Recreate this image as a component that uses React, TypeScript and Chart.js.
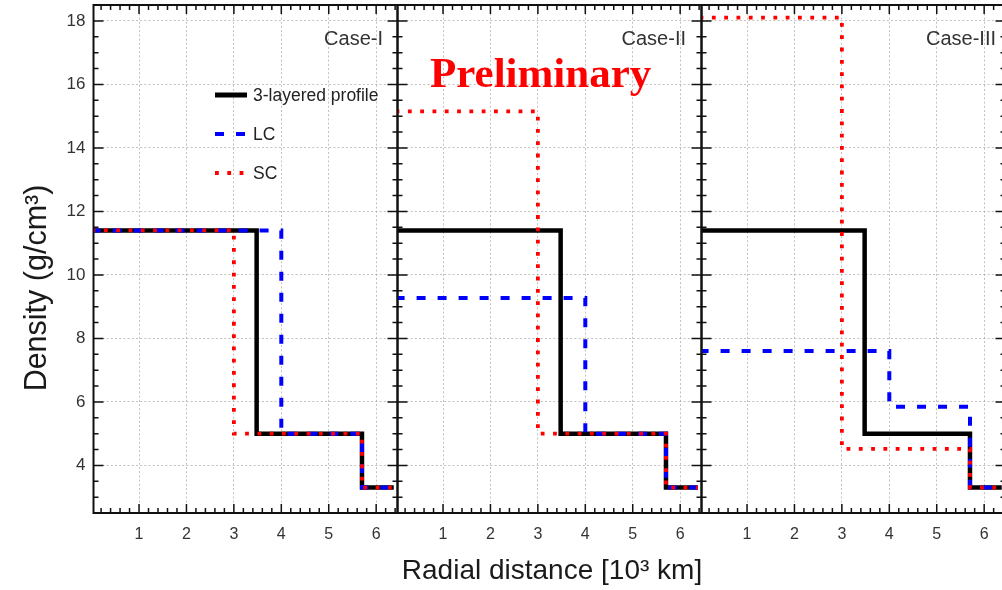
import React, { useEffect, useRef } from "react";
import { Chart, registerables } from "chart.js";

Chart.register(...registerables);

// ---------- data ----------
const caseNames = ["Case-I", "Case-II", "Case-III"];
const seriesNames = ["3-layered profile", "LC", "SC"];

const xTickValues = [1, 2, 3, 4, 5, 6];
const yTickValues = [4, 6, 8, 10, 12, 14, 16, 18];
const xRange = [0.04, 6.45];
const yRange = [2.5, 18.5];

// layer boundaries (radial distance, 10^3 km) and densities (g/cm^3) per layer
const threeLayerRadii = [0, 3.48, 5.701, 6.371];
const threeLayerDensity = [11.4, 5.0, 3.3];

const caseILcRadii = [0, 4.0, 5.701, 6.371];
const caseILcDensity = [11.4, 5.0, 3.3];
const caseIScRadii = [0, 3.0, 5.701, 6.371];
const caseIScDensity = [11.4, 5.0, 3.3];

const caseIILcRadii = [0, 4.0, 5.701, 6.371];
const caseIILcDensity = [9.27, 5.0, 3.3];
const caseIIScRadii = [0, 3.0, 5.701, 6.371];
const caseIIScDensity = [15.15, 5.0, 3.3];

const caseIIILcRadii = [0, 4.0, 5.701, 6.371];
const caseIIILcDensity = [7.6, 5.85, 3.3];
const caseIIIScRadii = [0, 3.0, 5.701, 6.371];
const caseIIIScDensity = [18.1, 4.52, 3.3];

const lcRadii = [caseILcRadii, caseIILcRadii, caseIIILcRadii];
const lcDensity = [caseILcDensity, caseIILcDensity, caseIIILcDensity];
const scRadii = [caseIScRadii, caseIIScRadii, caseIIIScRadii];
const scDensity = [caseIScDensity, caseIIScDensity, caseIIIScDensity];

// ---------- helpers ----------
const FONT = '"Liberation Sans", Arial, Helvetica, sans-serif';

// point i starts layer i (inner radius); the line runs horizontally to the next boundary, then steps
function stepPoints(radii: number[], dens: number[]) {
  return radii.map((r, i) => ({ x: r, y: dens[Math.min(i, dens.length - 1)] }));
}

const canvasLeft = [0, 396, 700];
const canvasWidth = [400, 308, 308];
const padLeft = [0, 1.5, 1.5];
const caseRightOffset = [14.5, 15.5, 9.5];

function makePlugin(panel: number) {
  return {
    id: "decor" + panel,
    afterDatasetsDraw(chart: any) {
      const { ctx, chartArea: a, scales } = chart;
      const xs = scales.x;
      const ys = scales.y;
      ctx.save();
      // frame
      ctx.strokeStyle = "#111";
      ctx.lineWidth = 2;
      ctx.setLineDash([]);
      ctx.strokeRect(a.left, a.top, a.right - a.left, a.bottom - a.top);
      // inward ticks
      ctx.lineWidth = 1.5;
      ctx.beginPath();
      for (let k = 1; k <= 32; k++) {
        const v = k * 0.2;
        if (v > xs.max) break;
        const px = xs.getPixelForValue(v);
        const major = Math.abs(v - Math.round(v)) < 1e-6;
        const len = major ? 9 : 5;
        ctx.moveTo(px, a.bottom);
        ctx.lineTo(px, a.bottom - len);
        ctx.moveTo(px, a.top);
        ctx.lineTo(px, a.top + len);
      }
      for (let k = 5; k <= 37; k++) {
        const v = k * 0.5;
        if (v <= ys.min || v >= ys.max) continue;
        const py = ys.getPixelForValue(v);
        const major = Math.abs(v / 2 - Math.round(v / 2)) < 1e-6;
        const len = major ? 10 : 5;
        ctx.moveTo(a.left, py);
        ctx.lineTo(a.left + len, py);
        ctx.moveTo(a.right, py);
        ctx.lineTo(a.right - len, py);
      }
      ctx.stroke();

      // case label
      ctx.fillStyle = "#333";
      ctx.font = "20px " + FONT;
      ctx.textAlign = "right";
      ctx.textBaseline = "middle";
      ctx.fillText(caseNames[panel], a.right - caseRightOffset[panel], a.top + 34);

      if (panel === 0) {
        // legend
        const ds = chart.data.datasets;
        [0, 1, 2].forEach((i, row) => {
          const d = ds[i];
          const y = a.top + 90 + row * 39;
          ctx.strokeStyle = d.borderColor;
          ctx.lineWidth = i === 0 ? 5 : d.borderWidth;
          ctx.setLineDash(d.borderDash || []);
          ctx.beginPath();
          ctx.moveTo(215, y);
          ctx.lineTo(247, y);
          ctx.stroke();
          ctx.setLineDash([]);
          ctx.fillStyle = "#222";
          ctx.font = "17.5px " + FONT;
          ctx.textAlign = "left";
          ctx.textBaseline = "middle";
          ctx.fillText(d.label, 253, y + 1);
        });
        // y title
        ctx.save();
        ctx.translate(38, 288);
        ctx.rotate(-Math.PI / 2);
        ctx.fillStyle = "#1a1a1a";
        ctx.font = "30.5px " + FONT;
        ctx.textAlign = "center";
        ctx.textBaseline = "middle";
        ctx.fillText("Density (g/cm³)", 0, 0);
        ctx.restore();
      }
      if (panel === 1) {
        ctx.fillStyle = "#ff0000";
        ctx.font = 'bold 43px "Liberation Serif", "Times New Roman", serif';
        ctx.textAlign = "left";
        ctx.textBaseline = "alphabetic";
        ctx.fillText("Preliminary", a.left + 32.5, 87);
        ctx.fillStyle = "#1a1a1a";
        ctx.font = "28px " + FONT;
        ctx.textAlign = "center";
        ctx.fillText("Radial distance [10³ km]", a.left + 154.5, 579);
      }
      ctx.restore();
    },
  };
}

function makeConfig(panel: number): any {
  const datasets = [
    {
      label: seriesNames[0],
      data: stepPoints(threeLayerRadii, threeLayerDensity),
      borderColor: "#000000",
      borderWidth: 4.5,
      borderDash: [],
      order: 2,
    },
    {
      label: seriesNames[1],
      data: stepPoints(lcRadii[panel], lcDensity[panel]),
      borderColor: "#0000ff",
      borderWidth: 4,
      borderDash: [9, 12],
      order: 1,
    },
    {
      label: seriesNames[2],
      data: stepPoints(scRadii[panel], scDensity[panel]),
      borderColor: "#ff0000",
      borderWidth: 3.8,
      borderDash: [3.8, 8.5],
      order: 0,
    },
  ].map((d) => ({
    ...d,
    stepped: "before",
    pointRadius: 0,
    fill: false,
    tension: 0,
    borderCapStyle: "butt",
    borderJoinStyle: "miter",
  }));

  const gridCfg = { color: "rgba(160,150,140,0.6)", lineWidth: 1, drawTicks: false };
  const borderCfg = { display: false, dash: [2, 2.2] };

  return {
    type: "line",
    data: { datasets },
    plugins: [makePlugin(panel)],
    options: {
      responsive: false,
      animation: false,
      layout: { padding: { left: padLeft[panel], right: 2.5, top: 5, bottom: 0 } },
      plugins: { legend: { display: false }, tooltip: { enabled: false }, title: { display: false } },
      scales: {
        x: {
          type: "linear",
          min: xRange[0],
          max: xRange[1],
          grid: gridCfg,
          border: borderCfg,
          afterBuildTicks: (s: any) => {
            s.ticks = xTickValues.map((v) => ({ value: v }));
          },
          afterFit: (s: any) => {
            s.height = 77;
            s.paddingLeft = 0;
            s.paddingRight = 0;
          },
          ticks: {
            padding: 12,
            color: "#333",
            font: { family: FONT, size: 16 },
            maxRotation: 0,
            callback: (v: any) => String(v),
          },
        },
        y: {
          type: "linear",
          min: yRange[0],
          max: yRange[1],
          grid: gridCfg,
          border: borderCfg,
          afterBuildTicks: (s: any) => {
            s.ticks = yTickValues.map((v) => ({ value: v }));
          },
          afterFit: (s: any) => {
            s.width = panel === 0 ? 93.5 : 0;
            s.paddingTop = 0;
            s.paddingBottom = 0;
          },
          ticks: {
            display: panel === 0,
            padding: 8,
            color: "#333",
            font: { family: FONT, size: 17 },
            callback: (v: any) => String(v),
          },
        },
      },
    },
  };
}

export default function App() {
  const r0 = useRef<HTMLCanvasElement>(null);
  const r1 = useRef<HTMLCanvasElement>(null);
  const r2 = useRef<HTMLCanvasElement>(null);
  const refs = [r0, r1, r2];

  useEffect(() => {
    const charts = refs.map((r, i) => new Chart(r.current as HTMLCanvasElement, makeConfig(i)));
    return () => charts.forEach((c) => c.destroy());
  }, []);

  return (
    <div
      style={{
        position: "absolute",
        left: 0,
        top: 0,
        width: 1002,
        height: 590,
        overflow: "hidden",
        background: "#fff",
      }}
    >
      {refs.map((r, i) => (
        <canvas
          key={i}
          ref={r}
          width={canvasWidth[i]}
          height={590}
          style={{ position: "absolute", left: canvasLeft[i], top: 0, width: canvasWidth[i], height: 590 }}
        />
      ))}
    </div>
  );
}
